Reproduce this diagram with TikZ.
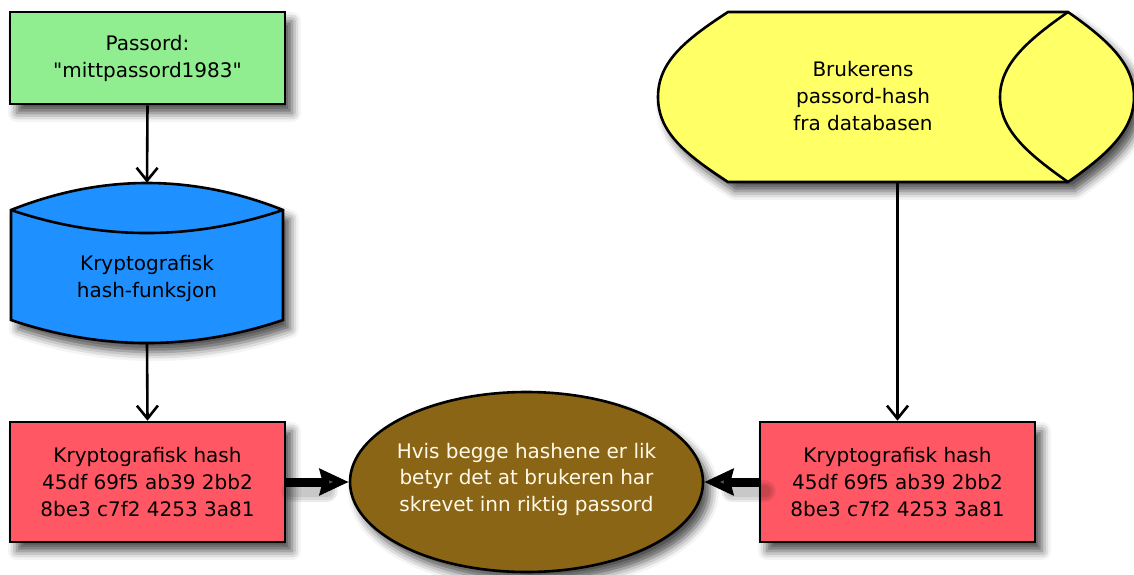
\documentclass[tikz,border=0pt]{standalone}
\usepackage{fontspec}
\newfontfamily\diagfont{DejaVu Sans}
\usetikzlibrary{arrows.meta,shapes.geometric,shadows.blur}

\definecolor{pwgreen}{RGB}{144,238,144}
\definecolor{hashblue}{RGB}{30,144,255}
\definecolor{dbyellow}{RGB}{255,255,102}
\definecolor{hashred}{RGB}{255,88,100}
\definecolor{resbrown}{RGB}{139,101,22}
\definecolor{restext}{RGB}{255,250,232}

\newcommand\labelfont{\diagfont\fontsize{20}{27}\selectfont}

\begin{document}
\begin{tikzpicture}[x=1pt,y=-1pt,
  softshadow/.style={blur shadow={shadow xshift=7pt,shadow yshift=-9pt,
      shadow blur radius=9pt,shadow opacity=70}},
  outline/.style={draw=black,line width=2.6pt},
  box/.style={outline,rectangle,minimum width=275pt,minimum height=120pt,
      align=center,font=\labelfont,softshadow,inner sep=0pt},
  label/.style={align=center,font=\labelfont,inner sep=0pt},
  area/.style={inner sep=0pt},
  flow/.style={line width=2.6pt,-{Straight Barb[length=13pt,width=21pt]}},
  bigflow/.style={line width=9pt,-{Stealth[length=29pt,width=26pt,inset=3pt]}},
  bigshade/.style={line width=#1,black,opacity=0.08,line cap=round},
]
\useasboundingbox (0,0) rectangle (1134,575);

% plain-text password
\node[box,fill=pwgreen,minimum height=92pt] (pw) at (147.5,58)
  {Passord:\\"mittpassord1983"};

% hash function drum
\path[outline,fill=hashblue,softshadow]
  (11,210) .. controls (101.7,174) and (192.3,174) .. (283,210)
  -- (283,320) .. controls (192.3,350.7) and (101.7,350.7) .. (11,320) -- cycle;
\draw[outline] (11,210) .. controls (101.7,240.7) and (192.3,240.7) .. (283,210);
\node[area,minimum width=272pt,minimum height=160pt] (hf) at (147,263) {};
\node[label] (hflabel) at (147,278) {Kryptografisk\\hash-funksjon};

% stored hash from the database
\path[outline,fill=dbyellow,softshadow]
  (728,12) -- (1068,12)
  .. controls (1108,40) and (1134,64) .. (1134,97)
  .. controls (1134,130) and (1108,154) .. (1068,182)
  -- (728,182)
  .. controls (685,154) and (658,132) .. (658,97)
  .. controls (658,62) and (685,40) .. (728,12) -- cycle;
\draw[outline] (1068,12) .. controls (1028,40) and (1000,64) .. (1000,97)
  .. controls (1000,130) and (1028,154) .. (1068,182);
\node[area,minimum width=479pt,minimum height=170pt] (db) at (897.5,97) {};
\node[label] (dblabel) at (863,96) {Brukerens\\passord-hash\\fra databasen};

% the two hash values
\node[box,fill=hashred] (h1) at (147.5,482)
  {Kryptografisk hash\\45df 69f5 ab39 2bb2\\8be3 c7f2 4253 3a81};
\node[box,fill=hashred] (h2) at (897.5,482)
  {Kryptografisk hash\\45df 69f5 ab39 2bb2\\8be3 c7f2 4253 3a81};

% comparison
\node[outline,ellipse,fill=resbrown,minimum width=353pt,minimum height=180pt,
  softshadow,inner sep=0pt] (res) at (526.5,482) {};
\node[label,text=restext,font=\diagfont\fontsize{20}{26.5}\selectfont]
  (reslabel) at (526.5,479)
  {Hvis begge hashene er lik\\betyr det at brukeren har\\skrevet inn riktig passord};

% soft shadows under the thick connectors
\foreach \w in {22pt,17pt,12pt}{
  \draw[bigshade=\w] ([shift={(6,9)}]h1.east) -- ([shift={(-22,9)}]res.west);
  \draw[bigshade=\w] ([shift={(6,9)}]h2.west) -- ([shift={(28,9)}]res.east);
}

% connectors
\draw[flow] (pw.south) -- (hf.north);
\draw[flow] (hf.south) -- (h1.north);
\draw[flow] (db.south) -- (h2.north);
\draw[bigflow] (h1.east) -- (res.west);
\draw[bigflow] (h2.west) -- (res.east);
\end{tikzpicture}
\end{document}
